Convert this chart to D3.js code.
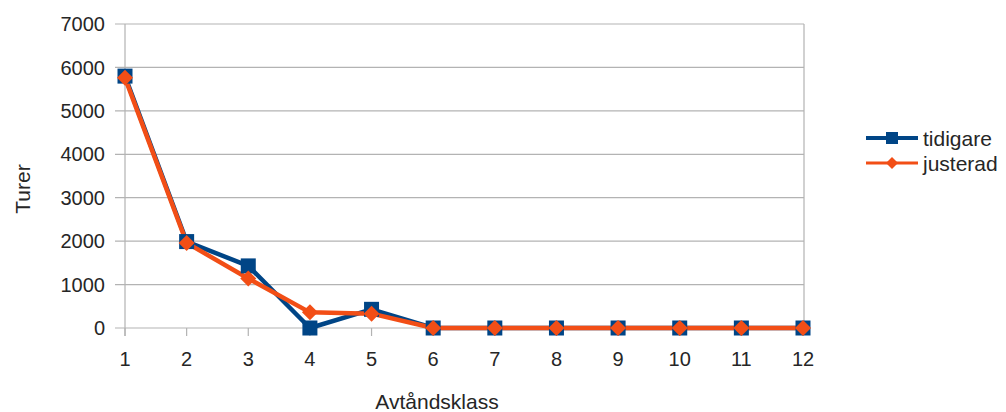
<!DOCTYPE html>
<html><head><meta charset="utf-8">
<script src="https://cdn.jsdelivr.net/npm/d3@7"></script>
<style>body{margin:0;background:#fff;} text{font-family:"Liberation Sans",Arial,sans-serif;fill:#262626;}</style>
</head><body><svg id="c" width="1006" height="412"></svg>
<script>
const categories = [1,2,3,4,5,6,7,8,9,10,11,12];
const tidigare = [5800,1990,1430,0,430,0,0,0,0,0,0,0];
const justerad = [5760,1960,1140,360,330,0,0,0,0,0,0,0];
const yTicks = [0,1000,2000,3000,4000,5000,6000,7000];
const seriesNames = ["tidigare","justerad"];
const colors = ["#004586","#f24e16"];

const svg = d3.select("#c");
const x = d3.scaleLinear().domain([1,12]).range([125,803]);
const y = d3.scaleLinear().domain([0,7000]).range([328,24]);

// gridlines
svg.append("g").selectAll("line").data(yTicks).join("line")
  .attr("x1",115).attr("x2",804).attr("y1",d=>y(d)).attr("y2",d=>y(d))
  .attr("stroke","#b3b3b3").attr("stroke-width",1.2);
// axes lines
svg.append("line").attr("x1",125).attr("x2",125).attr("y1",24).attr("y2",336).attr("stroke","#b3b3b3").attr("stroke-width",1.2);
svg.append("line").attr("x1",804).attr("x2",804).attr("y1",24).attr("y2",328).attr("stroke","#b3b3b3").attr("stroke-width",1.2);
svg.append("g").selectAll("line").data(categories).join("line")
  .attr("x1",d=>x(d)).attr("x2",d=>x(d)).attr("y1",328).attr("y2",336)
  .attr("stroke","#b3b3b3").attr("stroke-width",1.2);

// tick labels
svg.append("g").selectAll("text").data(yTicks).join("text")
  .attr("x",105).attr("y",d=>y(d)).attr("dy","0.36em").attr("text-anchor","end")
  .attr("font-size",20).text(d=>d);
svg.append("g").selectAll("text").data(categories).join("text")
  .attr("x",d=>x(d)).attr("y",366).attr("text-anchor","middle")
  .attr("font-size",20).text(d=>d);

// axis titles
svg.append("text").attr("x",437).attr("y",409).attr("text-anchor","middle").attr("font-size",21).text("Avtåndsklass");
svg.append("text").attr("transform","translate(30,189) rotate(-90)").attr("text-anchor","middle").attr("font-size",21).text("Turer");

const line = d3.line().x((d,i)=>x(categories[i])).y(d=>y(d));
const data = [tidigare, justerad];
const sq = 15, dm = 8;
function marker(g, k, cx, cy, s){
  if(k===0){
    g.append("rect").attr("x",cx-s/2).attr("y",cy-s/2).attr("width",s).attr("height",s).attr("fill",colors[0]);
  } else {
    g.append("path").attr("d",`M${cx},${cy-s}L${cx+s},${cy}L${cx},${cy+s}L${cx-s},${cy}Z`).attr("fill",colors[1]);
  }
}
data.forEach((vals,k)=>{
  svg.append("path").datum(vals).attr("d",line).attr("fill","none")
    .attr("stroke",colors[k]).attr("stroke-width",4.5).attr("stroke-linejoin","round");
});
data.forEach((vals,k)=>{
  const g = svg.append("g");
  vals.forEach((v,i)=>marker(g,k,x(categories[i]),y(v),k===0?sq:dm));
});

// legend
seriesNames.forEach((n,k)=>{
  const ly = 138 + k*25;
  svg.append("line").attr("x1",866).attr("x2",918).attr("y1",ly).attr("y2",ly).attr("stroke",colors[k]).attr("stroke-width",k===0?4:3);
  const g = svg.append("g");
  marker(g,k,892,ly,k===0?12:6);
  svg.append("text").attr("x",923).attr("y",ly).attr("dy","0.36em").attr("font-size",21).text(n);
});
</script></body></html>
